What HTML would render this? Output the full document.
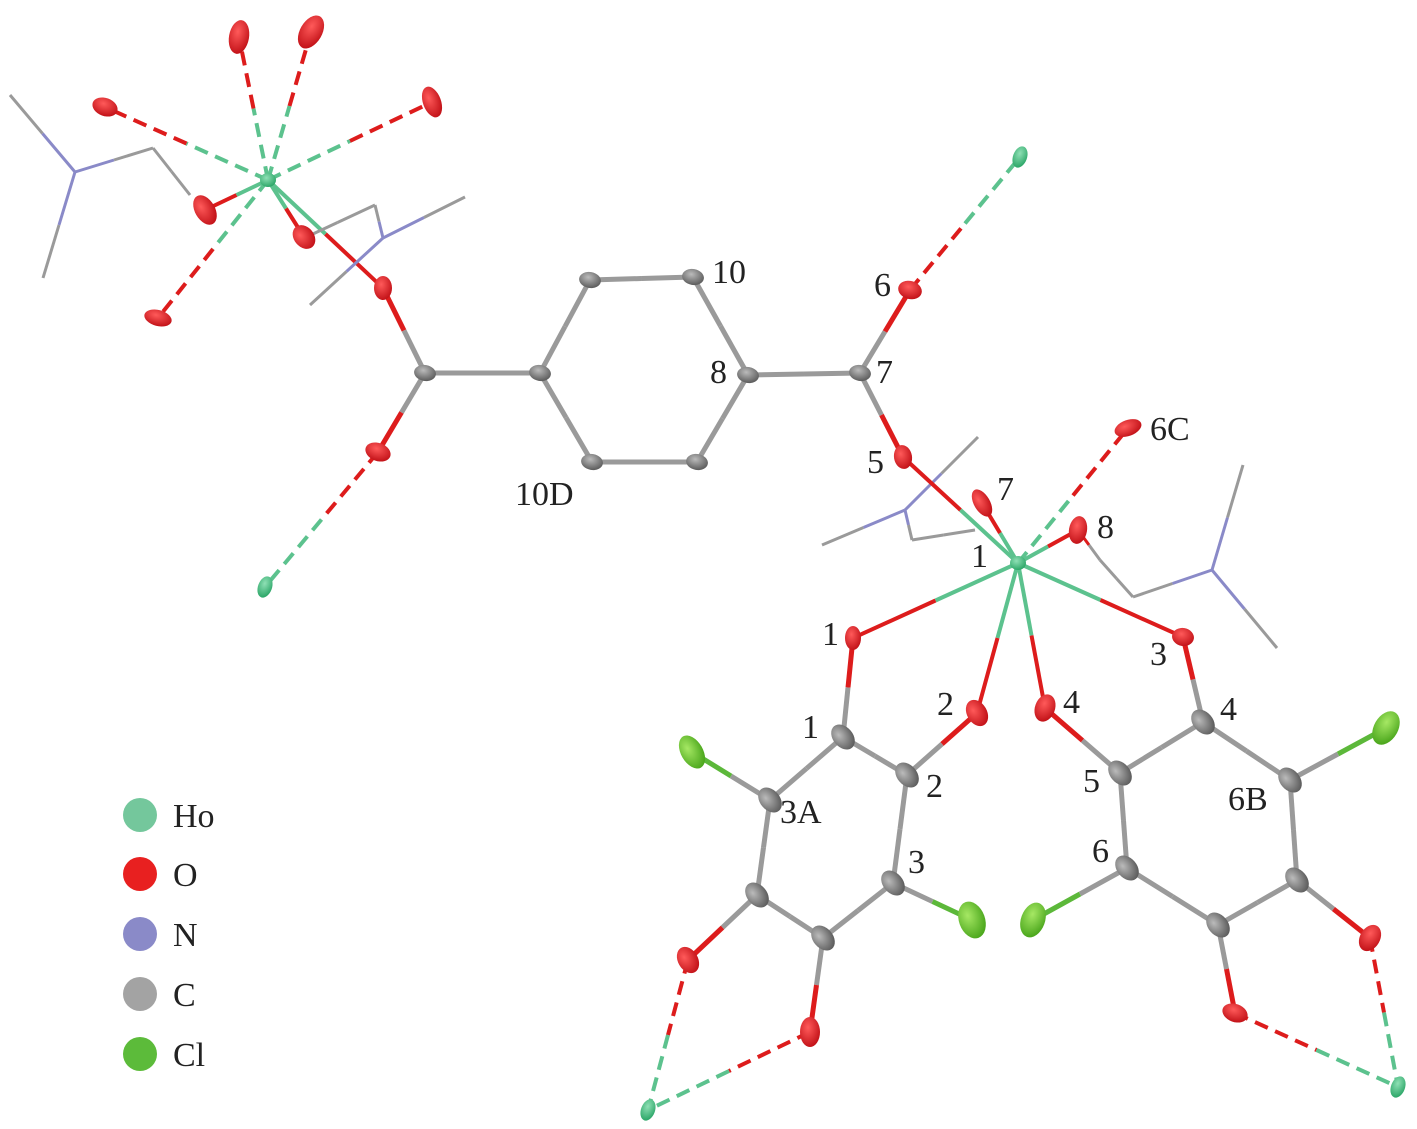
<!DOCTYPE html>
<html><head><meta charset="utf-8"><style>
html,body{margin:0;padding:0;background:#fff;}
svg{display:block}
text{font-family:"Liberation Serif",serif;font-size:34px;fill:#222}
</style></head><body>
<svg id="s" width="1417" height="1129" viewBox="0 0 1417 1129" xmlns="http://www.w3.org/2000/svg">
<defs>
<radialGradient id="gO" cx="40%" cy="35%" r="65%"><stop offset="0" stop-color="#ff5a5a"/><stop offset="1" stop-color="#c4141a"/></radialGradient>
<radialGradient id="gC" cx="40%" cy="35%" r="65%"><stop offset="0" stop-color="#bbbbbb"/><stop offset="1" stop-color="#5e5e5e"/></radialGradient>
<radialGradient id="gH" cx="40%" cy="35%" r="65%"><stop offset="0" stop-color="#8fe0b5"/><stop offset="1" stop-color="#2fa86a"/></radialGradient>
<radialGradient id="gL" cx="40%" cy="35%" r="65%"><stop offset="0" stop-color="#a6e864"/><stop offset="1" stop-color="#4da81e"/></radialGradient>
</defs>
<g id="bonds"></g>
<g id="atoms"></g>
<g>
<text x="712" y="283">10</text>
<text x="874" y="296">6</text>
<text x="710" y="383">8</text>
<text x="876" y="383">7</text>
<text x="1150" y="440">6C</text>
<text x="867" y="473">5</text>
<text x="515" y="505">10D</text>
<text x="997" y="500">7</text>
<text x="1097" y="538">8</text>
<text x="971" y="567">1</text>
<text x="822" y="645">1</text>
<text x="1150" y="665">3</text>
<text x="937" y="715">2</text>
<text x="1063" y="713">4</text>
<text x="1220" y="720">4</text>
<text x="802" y="738">1</text>
<text x="926" y="797">2</text>
<text x="1083" y="792">5</text>
<text x="1228" y="810">6B</text>
<text x="780" y="823">3A</text>
<text x="1092" y="862">6</text>
<text x="908" y="873">3</text>
<circle cx="140" cy="815" r="17" fill="#74c79c"/><text x="173" y="827">Ho</text>
<circle cx="140" cy="874" r="17" fill="#e82020"/><text x="173" y="886">O</text>
<circle cx="140" cy="934" r="17" fill="#8a8ac8"/><text x="173" y="946">N</text>
<circle cx="140" cy="994" r="17" fill="#a3a3a3"/><text x="173" y="1006">C</text>
<circle cx="140" cy="1054" r="17" fill="#5cbb3a"/><text x="173" y="1066">Cl</text>
</g>
</svg>
<script>
var NS="http://www.w3.org/2000/svg";
var B=document.getElementById("bonds"),A=document.getElementById("atoms");
var col={G:"#9a9a9a",O:"#dd1c1c",H:"#5cc28e",N:"#8a8ac8",L:"#5cb83a"};
function ln(x1,y1,x2,y2,c,w,d){var l=document.createElementNS(NS,"line");l.setAttribute("x1",x1);l.setAttribute("y1",y1);l.setAttribute("x2",x2);l.setAttribute("y2",y2);l.setAttribute("stroke",c);l.setAttribute("stroke-width",w);if(d)l.setAttribute("stroke-dasharray",d);B.appendChild(l);}
function bond(a,b,ca,cb,w,d){var mx=(a[0]+b[0])/2,my=(a[1]+b[1])/2;ln(a[0],a[1],mx,my,col[ca],w,d);ln(mx,my,b[0],b[1],col[cb],w,d);}
function at(p,t,rx,ry,rot){var e=document.createElementNS(NS,"ellipse");e.setAttribute("cx",p[0]);e.setAttribute("cy",p[1]);e.setAttribute("rx",rx);e.setAttribute("ry",ry);e.setAttribute("transform","rotate("+rot+" "+p[0]+" "+p[1]+")");e.setAttribute("fill","url(#g"+t+")");A.appendChild(e);}
// Ho top-left
var H1=[268,180];
var Ot=[[239,37],[311,32],[432,102],[105,107],[158,318]];
Ot.forEach(function(o){bond(H1,o,"H","O",4,"14 8");});
var Oa=[205,210],Ob=[304,237],Oc=[383,288];
bond(H1,Oa,"H","O",4);bond(H1,Ob,"H","O",4);bond(H1,Oc,"H","O",4);
// wire ligands
function w(a,b,ca,cb){bond(a,b,ca,cb,3);}
var N1=[75,172];w([10,95],N1,"G","N");w(N1,[43,278],"N","G");w(N1,[153,148],"N","G");w([153,148],[190,195],"G","G");
var N2=[383,238];w([300,240],[375,205],"G","G");w([375,205],N2,"G","N");w(N2,[465,197],"N","G");w(N2,[310,305],"N","G");
var N3=[905,510];w([822,545],N3,"G","N");w(N3,[978,437],"N","G");w(N3,[912,540],"N","G");w([912,540],[975,530],"G","G");
var N4=[1212,570];w([1100,560],[1133,597],"G","G");w([1133,597],N4,"G","N");w(N4,[1243,465],"N","G");w(N4,[1277,648],"N","G");w([1078,530],[1100,560],"O","G");
// left carboxylate
var Cc=[425,373],Od=[378,452],H2=[265,587];
bond(Oc,Cc,"O","G",5);bond(Cc,Od,"G","O",5);bond(Od,H2,"O","H",4,"14 8");
// ring
var R=[[540,373],[590,280],[693,277],[748,375],[697,462],[592,462]];
for(var i=0;i<6;i++)bond(R[i],R[(i+1)%6],"G","G",5);
bond(Cc,R[0],"G","G",5);
var C7=[860,373],O6=[910,290],H3=[1020,157],O5=[903,457],Ho=[1018,563];
bond(R[3],C7,"G","G",5);bond(C7,O6,"G","O",5);bond(C7,O5,"G","O",5);bond(O6,H3,"O","H",4,"14 8");
bond(O5,Ho,"O","H",4);
var O6C=[1128,428],O7=[982,503],O8=[1078,530],O1=[853,638],O2=[977,713],O4=[1045,708],O3=[1183,637];
bond(Ho,O6C,"H","O",4,"14 8");[O7,O8,O1,O2,O4,O3].forEach(function(o){bond(Ho,o,"H","O",4);});
// left ring
var L=[[843,737],[907,775],[893,883],[823,938],[757,895],[770,800]];
for(i=0;i<6;i++)bond(L[i],L[(i+1)%6],"G","G",5);
bond(O1,L[0],"O","G",5);bond(O2,L[1],"O","G",5);
var Cl1=[692,752],Cl2=[972,920],Oe=[688,960],Of=[810,1032],H4=[648,1110];
bond(L[5],Cl1,"G","L",5);bond(L[2],Cl2,"G","L",5);bond(L[4],Oe,"G","O",5);bond(L[3],Of,"G","O",5);
bond(Oe,H4,"O","H",4,"14 8");bond(Of,H4,"O","H",4,"14 8");
// right ring
var Rr=[[1203,722],[1120,773],[1127,868],[1218,925],[1297,880],[1290,780]];
for(i=0;i<6;i++)bond(Rr[i],Rr[(i+1)%6],"G","G",5);
bond(O3,Rr[0],"O","G",5);bond(O4,Rr[1],"O","G",5);
var Cl3=[1386,728],Cl4=[1033,920],Og=[1370,938],Oh=[1235,1013],H5=[1398,1087];
bond(Rr[5],Cl3,"G","L",5);bond(Rr[2],Cl4,"G","L",5);bond(Rr[4],Og,"G","O",5);bond(Rr[3],Oh,"G","O",5);
bond(Og,H5,"O","H",4,"14 8");bond(Oh,H5,"O","H",4,"14 8");
// atoms
[[239,37,10,17,10],[311,32,11,18,30],[432,102,9,16,-20],[105,107,13,9,20],[158,318,14,8,15],[205,210,10,16,-30],[304,237,10,13,-40],[383,288,9,12,0],[378,452,13,9,20],[910,290,12,9,15],[903,457,9,12,-10],[1128,428,14,8,-20],[982,503,8,15,-30],[1078,530,9,14,10],[853,638,8,12,0],[977,713,10,14,-30],[1045,708,10,14,20],[1183,637,11,9,10],[688,960,10,14,-30],[810,1032,10,15,0],[1370,938,10,14,30],[1235,1013,13,9,20]].forEach(function(a){at([a[0],a[1]],"O",a[2],a[3],a[4]);});
R.concat([Cc,C7]).forEach(function(p){at(p,"C",11,8,10);});
L.concat(Rr).forEach(function(p){at(p,"C",10,14,-40);});
[[692,752,11,18,-30],[972,920,13,19,-20],[1386,728,12,18,30],[1033,920,12,18,20]].forEach(function(a){at([a[0],a[1]],"L",a[2],a[3],a[4]);});
[H1,Ho].forEach(function(p){at(p,"H",8,7,0);});
[H2,H3,H4,H5].forEach(function(p){at(p,"H",7,11,20);});
</script>
</body></html>
